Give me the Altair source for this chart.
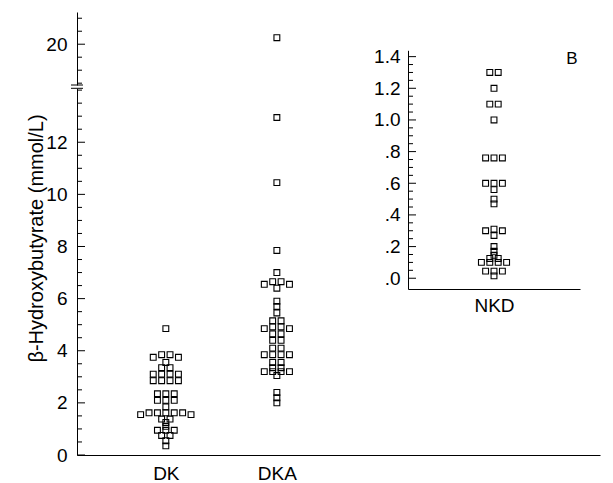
import json
import altair as alt
import pandas as pd

# ---------------- data ----------------
main_groups = ["DK", "DKA"]
dk_values = [4.85, 3.85, 3.85, 3.75, 3.75, 3.55, 3.35, 3.35, 3.1, 3.1, 3.1, 3.1,
             2.85, 2.85, 2.85, 2.85, 2.35, 2.35, 2.35, 2.1, 2.1, 2.1, 1.85,
             1.62, 1.62, 1.62, 1.62, 1.62, 1.55, 1.55, 1.38, 1.38, 1.25, 1.1,
             0.95, 0.95, 0.95, 0.75, 0.75, 0.55, 0.35]
dka_values = [20.25, 12.95, 10.45, 7.85, 7.0, 6.65, 6.65, 6.55, 6.55, 6.4, 5.9, 5.7,
              5.45, 5.15, 5.15, 4.92, 4.92, 4.85, 4.85, 4.65, 4.65, 4.4, 4.4, 4.1,
              4.1, 3.85, 3.85, 3.85, 3.85, 3.55, 3.55, 3.35, 3.35, 3.2, 3.2, 3.2,
              3.2, 3.05, 2.4, 2.2, 2.0]
inset_group = "NKD"
nkd_values = [1.3, 1.3, 1.2, 1.1, 1.1, 1.0, 0.76, 0.76, 0.76, 0.6, 0.6, 0.6, 0.56,
              0.5, 0.47, 0.31, 0.3, 0.3, 0.27, 0.2, 0.17, 0.145, 0.125, 0.125,
              0.1, 0.1, 0.1, 0.1, 0.045, 0.045, 0.045, 0.015]
panel_letter = "B"
y_title = "β-Hydroxybutyrate (mmol/L)"

low_major_ticks = [0, 2, 4, 6, 8, 10, 12]
low_minor_ticks = [0.5, 1, 1.5, 2.5, 3, 3.5, 4.5, 5, 5.5, 6.5, 7, 7.5, 8.5, 9, 9.5,
                   10.5, 11, 11.5, 12.5, 13, 13.5, 14]
up_major_ticks = [20]
up_minor_ticks = [18.5, 19, 19.5, 20.5, 21]
in_major_ticks = [0, 0.2, 0.4, 0.6, 0.8, 1.0, 1.2, 1.4]
in_minor_ticks = [0.05, 0.1, 0.15, 0.25, 0.3, 0.35, 0.45, 0.5, 0.55, 0.65,
                  0.7, 0.75, 0.85, 0.9, 0.95, 1.05, 1.1, 1.15, 1.25, 1.3, 1.35]

# ---------------- layout ----------------
PLOT_W, PLOT_H = 523, 443
X_DOMAIN = [0.2, 4.91]
LOW_DOMAIN, LOW_RANGE = [0, 14.07], [443, 76.3]
UP_DOMAIN, UP_RANGE = [18.43, 21.24], [73, 0]
IN_X_DOMAIN, IN_X_RANGE = [0, 1], [331, 503]
IN_Y_DOMAIN, IN_Y_RANGE = [-0.068, 1.44], [277, 38.3]
SLOT_PX = 8.4
FONT = "Liberation Sans"
LABEL_SIZE = 19
MAJOR_LEN, MINOR_LEN = 8, 5
TICK_PATH = "M0,0H1"   # a stroke starting at the axis and pointing into the plot

main_units_per_px = (X_DOMAIN[1] - X_DOMAIN[0]) / PLOT_W
in_units_per_px = (IN_X_DOMAIN[1] - IN_X_DOMAIN[0]) / (IN_X_RANGE[1] - IN_X_RANGE[0])


def swarm(values, center, thr, slot):
    """Spread near-equal values side by side, centred on the group position."""
    clusters = []
    for v in sorted(values):
        if clusters and v - clusters[-1][0] <= thr + 1e-9:
            clusters[-1].append(v)
        else:
            clusters.append([v])
    rows = []
    for c in clusters:
        n = len(c)
        offs = sorted([i - (n - 1) / 2 for i in range(n)], key=lambda o: (abs(o), o))
        for v, o in zip(sorted(c, reverse=True), offs):
            rows.append({"value": v, "x": center + o * slot, "kind": "pt"})
    return rows


def tick_rows(major, minor, x0):
    rows = [{"value": v, "x": x0, "kind": "major"} for v in major]
    rows += [{"value": v, "x": x0, "kind": "minor"} for v in minor]
    return rows


main_slot = SLOT_PX * main_units_per_px
rows = []
for i, (g, vals) in enumerate(zip(main_groups, [dk_values, dka_values])):
    rows += swarm(vals, i + 1, 0.12, main_slot)
low_rows = [r for r in rows if r["value"] <= LOW_DOMAIN[1]]
up_rows = [r for r in rows if r["value"] >= UP_DOMAIN[0]]
low_df = pd.DataFrame(low_rows + tick_rows(low_major_ticks, low_minor_ticks, X_DOMAIN[0]))
up_df = pd.DataFrame(up_rows + tick_rows(up_major_ticks, up_minor_ticks, X_DOMAIN[0]))
in_df = pd.DataFrame(swarm(nkd_values, 0.5, 0.012, SLOT_PX * in_units_per_px)
                     + tick_rows(in_major_ticks, in_minor_ticks, IN_X_DOMAIN[0]))

point_style = dict(shape="square", filled=False, color="black", size=34,
                   strokeWidth=1.1, opacity=1)

common_axis = dict(labelFont=FONT, labelFontSize=LABEL_SIZE, labelColor="black",
                   domainColor="black", domainWidth=1, ticks=False, tickSize=0,
                   grid=False, labelOverlap=False)


def segment(df, x_scale, x_axis, y_scale, y_axis):
    base = alt.Chart(df)
    enc = dict(x=alt.X("x:Q", scale=x_scale, axis=x_axis),
               y=alt.Y("value:Q", scale=y_scale, axis=y_axis))
    pts = base.mark_point(**point_style).encode(**enc).transform_filter(
        alt.datum.kind == "pt")
    layers = [pts]
    for kind, length in (("major", MAJOR_LEN), ("minor", MINOR_LEN)):
        layers.append(
            base.mark_point(shape=TICK_PATH, filled=False, color="black",
                            strokeWidth=1, opacity=1, size=(2 * length) ** 2)
            .encode(**enc).transform_filter(alt.datum.kind == kind))
    return alt.layer(*layers)


# ---- lower segment ----
main_x_scale = alt.Scale(domain=X_DOMAIN, nice=False, zero=False)
main_x_axis = alt.Axis(values=list(range(1, len(main_groups) + 1)),
                       labelExpr=f"{json.dumps(main_groups)}[round(datum.value) - 1]",
                       title=None, labelPadding=9, orient="bottom", **common_axis)
low_y_scale = alt.Scale(domain=LOW_DOMAIN, range=LOW_RANGE, nice=False, zero=False)
low_y_axis = alt.Axis(values=low_major_ticks, title=y_title, titleFont=FONT,
                      titleFontSize=20, titleFontWeight="normal", titleColor="black",
                      titleX=-31, titleY=226, titleAngle=270, titleBaseline="bottom",
                      titleAlign="center", labelPadding=10, orient="left", **common_axis)
lower = segment(low_df, main_x_scale, main_x_axis, low_y_scale, low_y_axis)

# ---- upper segment ----
up_y_scale = alt.Scale(domain=UP_DOMAIN, range=UP_RANGE, nice=False, zero=False)
up_y_axis = alt.Axis(values=up_major_ticks, title=None, labelPadding=10,
                     orient="left", **common_axis)
upper = segment(up_df, main_x_scale, None, up_y_scale, up_y_axis)

# ---- inset ----
in_y_scale = alt.Scale(domain=IN_Y_DOMAIN, range=IN_Y_RANGE, nice=False, zero=False)
in_y_axis = alt.Axis(values=in_major_ticks,
                     labelExpr="replace(format(datum.value, '.1f'), '0.', '.')",
                     title=None, labelPadding=8, orient="left", offset=-IN_X_RANGE[0],
                     **common_axis)
in_x_scale = alt.Scale(domain=IN_X_DOMAIN, range=IN_X_RANGE, nice=False, zero=False)
in_x_axis = alt.Axis(values=[0.5], labelExpr=json.dumps(inset_group).replace('"', "'"),
                     title=None, labelPadding=7, orient="bottom",
                     offset=-(PLOT_H - IN_Y_RANGE[0]), **common_axis)
inset = segment(in_df, in_x_scale, in_x_axis, in_y_scale, in_y_axis)

# ---- decorations: axis break marks and panel letter ----
one = pd.DataFrame({"k": [0]})
brk1 = alt.Chart(one).mark_rule(color="black", strokeWidth=1).encode(
    x=alt.value(-6), x2=alt.value(6), y=alt.value(UP_RANGE[0]))
brk2 = alt.Chart(one).mark_rule(color="black", strokeWidth=1).encode(
    x=alt.value(-6), x2=alt.value(6), y=alt.value(LOW_RANGE[1]))
letter = alt.Chart(one).mark_text(text=panel_letter, font=FONT, fontSize=17,
                                  color="black", align="center",
                                  baseline="middle").encode(
    x=alt.value(495), y=alt.value(47))

chart = alt.layer(lower, upper, inset, brk1, brk2, letter).resolve_scale(
    x="independent", y="independent"
).properties(
    width=PLOT_W, height=PLOT_H,
    autosize=alt.AutoSizeParams(type="none"),
    padding={"left": 69, "top": 4, "right": 5, "bottom": 32},
    background="white",
).configure_view(stroke=None)

chart.save("out.html", embed_options={"renderer": "svg", "actions": False})
